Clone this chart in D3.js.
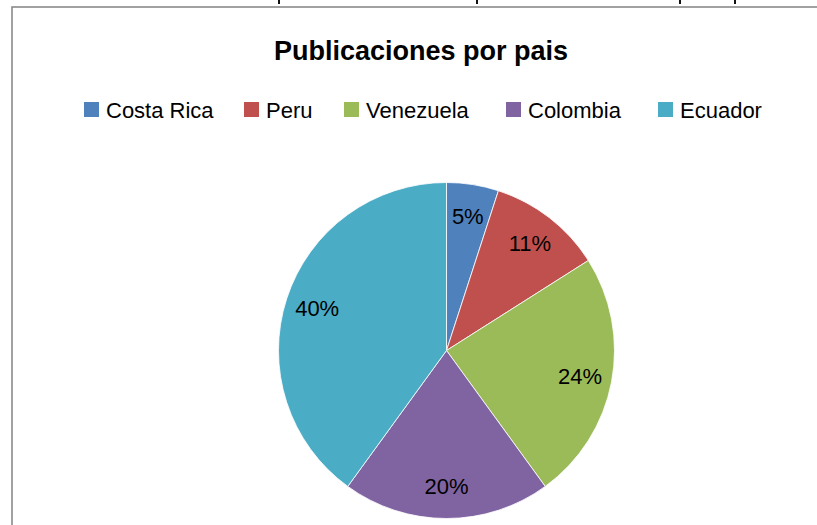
<!DOCTYPE html>
<html>
<head>
<meta charset="utf-8">
<script src="https://cdn.jsdelivr.net/npm/d3@7"></script>
<style>
  body { margin: 0; background: #fff; }
  svg { display: block; font-family: "Liberation Sans", Arial, sans-serif; }
</style>
</head>
<body>
<svg id="chart"></svg>
<script>
// data
const paises = ["Costa Rica", "Peru", "Venezuela", "Colombia", "Ecuador"];
const valores = [5, 11, 24, 20, 40];
const colores = ["#4F81BD", "#C0504D", "#9BBB59", "#8064A2", "#4BACC6"];
const titulo = "Publicaciones por pais";

// constants
const width = 817;
const height = 525;

const svg = d3.select('#chart')
  .attr('width', width)
  .attr('height', height);

// descenders of the cropped line of text above the chart
[279, 477, 680, 735].forEach(x => {
  svg.append('rect')
    .attr('x', x - 1)
    .attr('y', 0)
    .attr('width', 2)
    .attr('height', 4)
    .attr('fill', '#111');
});

// chart area border
svg.append('rect')
  .attr('x', 12)
  .attr('y', 7)
  .attr('width', width + 20)
  .attr('height', height + 20)
  .attr('fill', 'none')
  .attr('stroke', '#8a8a8a')
  .attr('stroke-width', 1.6);

// title
svg.append('text')
  .attr('x', 421)
  .attr('y', 60)
  .attr('text-anchor', 'middle')
  .attr('font-size', '27px')
  .attr('font-weight', 'bold')
  .attr('fill', '#000')
  .text(titulo);

// legend
const color = d3.scaleOrdinal().domain(paises).range(colores);
const legendX = [84, 244, 344, 506, 658];

const legend = svg.selectAll('.legend')
  .data(paises)
  .enter().append('g')
  .attr('class', 'legend')
  .attr('transform', (d, i) => `translate(${legendX[i]},102)`);

legend.append('rect')
  .attr('width', 15)
  .attr('height', 15)
  .attr('fill', d => color(d));

legend.append('text')
  .attr('x', 22)
  .attr('y', 16)
  .attr('font-size', '22px')
  .attr('fill', '#000')
  .text(d => d);

// pie
const cx = 446.5, cy = 350.5, radius = 168;

const pie = d3.pie().sort(null).value(d => d);
const arcs = pie(valores);
const total = d3.sum(valores);

const arc = d3.arc().innerRadius(0).outerRadius(radius);
const labelArc = d3.arc().innerRadius(136).outerRadius(136);

const g = svg.append('g')
  .attr('transform', `translate(${cx},${cy})`);

g.selectAll('path')
  .data(arcs)
  .enter().append('path')
  .attr('d', arc)
  .attr('fill', (d, i) => color(paises[i]))
  .attr('stroke', '#fff')
  .attr('stroke-width', 0.8);

g.selectAll('.lbl')
  .data(arcs)
  .enter().append('text')
  .attr('class', 'lbl')
  .attr('transform', d => `translate(${labelArc.centroid(d)})`)
  .attr('text-anchor', 'middle')
  .attr('dy', '0.36em')
  .attr('font-size', '22px')
  .attr('fill', '#000')
  .text(d => Math.round(d.value / total * 100) + '%');
</script>
</body>
</html>
